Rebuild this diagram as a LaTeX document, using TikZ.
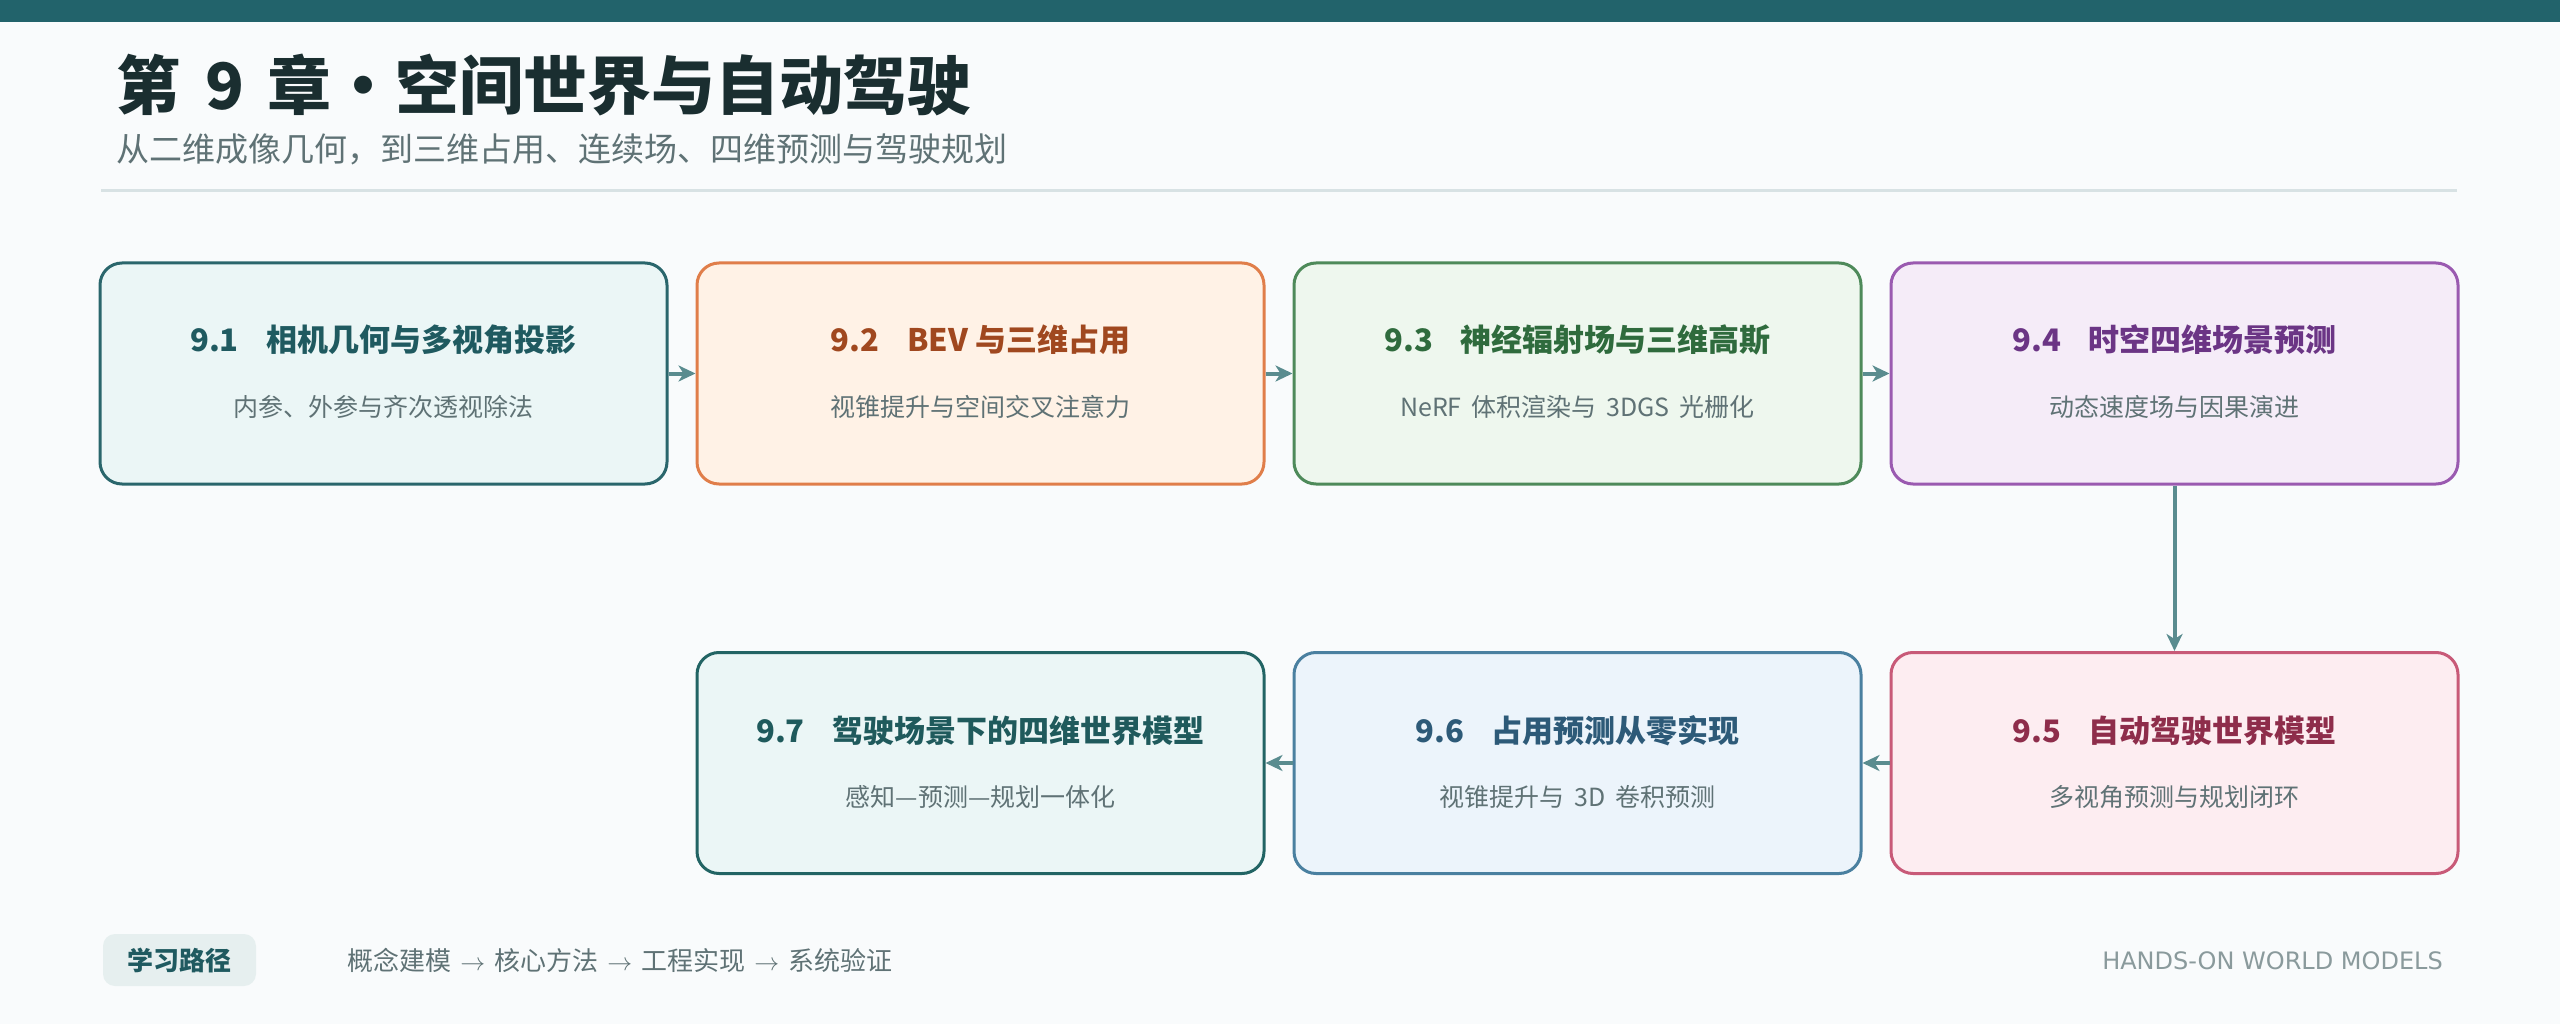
\documentclass[tikz,border=0pt]{standalone}
\usepackage{fontspec}
\setmainfont{Noto Sans CJK SC}
\newfontfamily\latinsans{DejaVu Sans}
\usetikzlibrary{arrows.meta}
\definecolor{bg}{HTML}{F9FBFC}
\definecolor{topbar}{HTML}{22636B}
\definecolor{titlec}{HTML}{1A2E30}
\definecolor{subc}{HTML}{5F7275}
\definecolor{rulec}{HTML}{D8E2E4}
\definecolor{arrc}{HTML}{5A8C8F}
\definecolor{fA}{HTML}{EBF6F6}\definecolor{dA}{HTML}{2A666C}\definecolor{tA}{HTML}{1F5A60}
\definecolor{fB}{HTML}{FFF2E6}\definecolor{dB}{HTML}{E07E4A}\definecolor{tB}{HTML}{A0481F}
\definecolor{fC}{HTML}{EEF7EE}\definecolor{dC}{HTML}{4E8A5A}\definecolor{tC}{HTML}{2F6B3D}
\definecolor{fD}{HTML}{F5ECF8}\definecolor{dD}{HTML}{9A5AB0}\definecolor{tD}{HTML}{6B3585}
\definecolor{fE}{HTML}{FDEDF1}\definecolor{dE}{HTML}{C85A78}\definecolor{tE}{HTML}{8E2D4B}
\definecolor{fF}{HTML}{ECF4FB}\definecolor{dF}{HTML}{4A80A0}\definecolor{tF}{HTML}{2D5A78}
\definecolor{fG}{HTML}{EBF6F6}\definecolor{dG}{HTML}{226464}\definecolor{tG}{HTML}{1F5A5C}
\definecolor{pillc}{HTML}{E6EFEF}
\definecolor{brandc}{HTML}{8A9A9C}
\newcommand{\patharrow}{\hspace{0.35em}$\rightarrow$\hspace{0.35em}}
\begin{document}
\begin{tikzpicture}[x=1pt,y=-1pt,
  box/.style={draw, line width=3pt, rounded corners=22pt, minimum width=567pt, minimum height=221pt, inner sep=0pt},
  boxtitle/.style={anchor=base, inner sep=0pt, font=\fontsize{31}{31}\selectfont\bfseries},
  boxsub/.style={anchor=base, inner sep=0pt, text=subc, font=\fontsize{25}{25}\selectfont},
  arr/.style={draw=arrc, line width=4pt, -{Stealth[length=17pt,width=16pt,inset=5pt]}}
]
\useasboundingbox (0,0) rectangle (2560,1024);
\fill[bg] (0,0) rectangle (2560,1024);
\fill[topbar] (0,0) rectangle (2560,22);
% header
\node[anchor=base west, inner sep=0pt, text=titlec, font=\fontsize{64}{64}\selectfont\bfseries] (title) at (116,110) {第\hspace{0.4em}9\hspace{0.36em}章・空间世界与自动驾驶};
\node[anchor=base west, inner sep=0pt, text=subc, font=\fontsize{33}{33}\selectfont] (subtitle) at (116,162) {从二维成像几何，到三维占用、连续场、四维预测与驾驶规划};
\draw[rulec, line width=3pt] (101,191) -- (2457,191);
% boxes row 1
\node[box, fill=fA, draw=dA] (b1) at (383.5,373.5) {};
\node[box, fill=fB, draw=dB] (b2) at (980.5,373.5) {};
\node[box, fill=fC, draw=dC] (b3) at (1577.5,373.5) {};
\node[box, fill=fD, draw=dD] (b4) at (2174.5,373.5) {};
% boxes row 2
\node[box, fill=fE, draw=dE] (b5) at (2174.5,763) {};
\node[box, fill=fF, draw=dF] (b6) at (1577.5,763) {};
\node[box, fill=fG, draw=dG] (b7) at (980.5,763) {};
% texts
\node[boxtitle, text=tA] (t1) at (383.5,352) {9.1\hspace{0.9em}相机几何与多视角投影};
\node[boxsub] (s1) at (383.5,416) {内参、外参与齐次透视除法};
\node[boxtitle, text=tB] (t2) at (980.5,352) {9.2\hspace{0.9em}BEV 与三维占用};
\node[boxsub] (s2) at (980.5,416) {视锥提升与空间交叉注意力};
\node[boxtitle, text=tC] (t3) at (1577.5,352) {9.3\hspace{0.9em}神经辐射场与三维高斯};
\node[boxsub] (s3) at (1577.5,416) {NeRF\hspace{0.4em}体积渲染与\hspace{0.4em}3DGS\hspace{0.4em}光栅化};
\node[boxtitle, text=tD] (t4) at (2174.5,352) {9.4\hspace{0.9em}时空四维场景预测};
\node[boxsub] (s4) at (2174.5,416) {动态速度场与因果演进};
\node[boxtitle, text=tE] (t5) at (2174.5,742) {9.5\hspace{0.9em}自动驾驶世界模型};
\node[boxsub] (s5) at (2174.5,806) {多视角预测与规划闭环};
\node[boxtitle, text=tF] (t6) at (1577.5,742) {9.6\hspace{0.9em}占用预测从零实现};
\node[boxsub] (s6) at (1577.5,806) {视锥提升与\hspace{0.4em}3D\hspace{0.4em}卷积预测};
\node[boxtitle, text=tG] (t7) at (980.5,742) {9.7\hspace{0.9em}驾驶场景下的四维世界模型};
\node[boxsub] (s7) at (980.5,806) {感知—预测—规划一体化};
% arrows
\draw[arr] (b1.east) -- (b2.west);
\draw[arr] (b2.east) -- (b3.west);
\draw[arr] (b3.east) -- (b4.west);
\draw[arr] (b4.south) -- (b5.north);
\draw[arr] (b5.west) -- (b6.east);
\draw[arr] (b6.west) -- (b7.east);
% footer
\node[fill=pillc, rounded corners=12pt, minimum width=153pt, minimum height=52pt, inner sep=0pt, text=tA, font=\fontsize{26}{26}\selectfont\bfseries] (pill) at (179.5,960) {学习路径};
\node[anchor=base west, inner sep=0pt, text=subc, font=\fontsize{26}{26}\selectfont] (path) at (347,970) {概念建模\patharrow 核心方法\patharrow 工程实现\patharrow 系统验证};
\node[anchor=base east, inner sep=0pt, text=brandc, font=\latinsans\fontsize{24}{24}\selectfont] (brand) at (2443,969) {HANDS-ON WORLD MODELS};
\end{tikzpicture}
\end{document}
